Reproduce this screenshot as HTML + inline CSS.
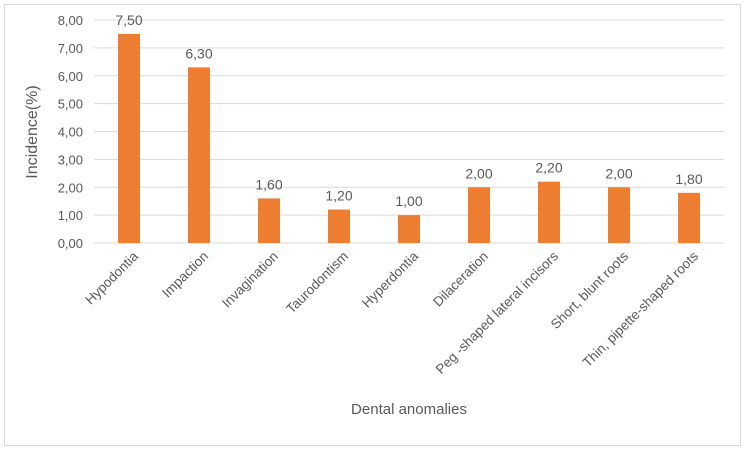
<!DOCTYPE html>
<html><head><meta charset="utf-8"><style>
body{margin:0;background:#fff;}
svg text{font-family:"Liberation Sans",sans-serif;fill:#595959;}
</style></head><body>
<svg width="744" height="450">
<rect x="4.5" y="4.5" width="736" height="441" fill="#fff" stroke="#d9d9d9"/>
<g id="grid"></g><g id="bars"></g>
<text x="409" y="414" font-size="15" text-anchor="middle">Dental anomalies</text>
<text transform="translate(37,132) rotate(-90)" font-size="16" text-anchor="middle">Incidence(%)</text>
</svg>
<script>
const categories=["Hypodontia","Impaction","Invagination","Taurodontism","Hyperdontia","Dilaceration","Peg -shaped lateral incisors","Short, blunt roots","Thin, pipette-shaped roots"];
const values=[7.5,6.3,1.6,1.2,1.0,2.0,2.2,2.0,1.8];
const valueLabels=["7,50","6,30","1,60","1,20","1,00","2,00","2,20","2,00","1,80"];
const yTicks=[0,1,2,3,4,5,6,7,8];
const yTickLabels=["0,00","1,00","2,00","3,00","4,00","5,00","6,00","7,00","8,00"];
const NS="http://www.w3.org/2000/svg";
const L=94,R=724,Y0=243,Y8=20;
const y=v=>Y0-(v/8)*(Y0-Y8);
const bw=(R-L)/categories.length;
const x=i=>L+bw*(i+0.5);
const grid=document.getElementById('grid'),bars=document.getElementById('bars');
function mk(t,a,p){const e=document.createElementNS(NS,t);for(const k in a)e.setAttribute(k,a[k]);p.appendChild(e);return e;}
yTicks.forEach((v,i)=>{
 const l=mk('line',{x1:L,x2:R,y1:y(v),y2:y(v),stroke:'#d9d9d9','stroke-width':1},grid);
 
 
 const t=mk('text',{x:83,y:y(v)+5,'font-size':13,'text-anchor':'end'},grid);
 t.textContent=yTickLabels[i];
 
 
});
categories.forEach((c,i)=>{
 const r=mk('rect',{x:x(i)-11,y:y(values[i]),width:22,height:Y0-y(values[i]),fill:'#ed7d31'},bars);
 
 
 const t=mk('text',{x:x(i),y:y(values[i])-9,'font-size':14,'text-anchor':'middle'},bars);
 t.textContent=valueLabels[i];
 
 
 const xl=mk('text',{transform:`translate(${x(i)+10},${Y0+14}) rotate(-45)`,'font-size':13.5,'text-anchor':'end'},bars);
 xl.textContent=c;
 
 
});
</script>
</body></html>
